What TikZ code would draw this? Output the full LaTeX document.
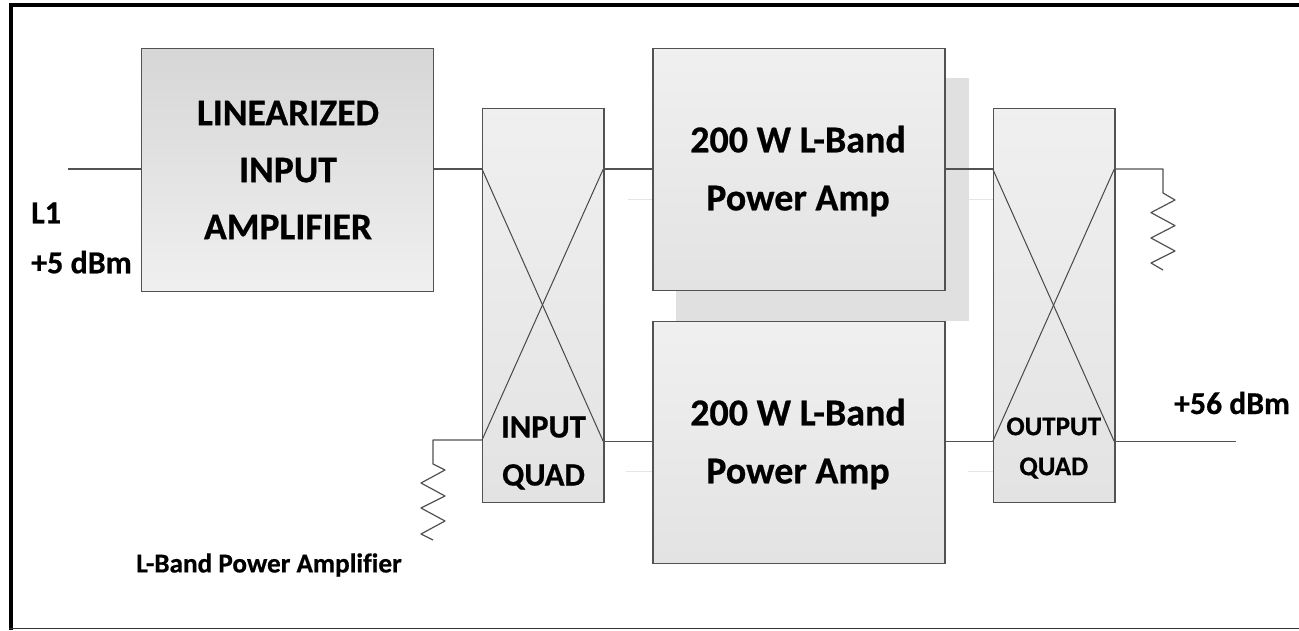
\documentclass[tikz,border=0pt]{standalone}
\usepackage{fontspec}
\setmainfont{Carlito}[BoldFeatures={FakeBold=0.6}]
\tikzset{
  block/.style={draw=black!68,line width=1.2pt,shading=axis,shading angle=0,anchor=north west,inner sep=0pt},
  wire/.style={draw=black!68,line width=1.2pt},
  cross/.style={draw=black!72,line width=1pt},
  faint/.style={draw=black!10,line width=0.8pt},
  lab/.style={font=\bfseries,align=center,text=black,inner sep=0pt}
}
\begin{document}
\begin{tikzpicture}[x=1pt,y=-1pt]
\useasboundingbox (0,0) rectangle (1299,630);
\fill[white] (0,0) rectangle (1299,630);
% frame
\fill[black] (9,3) rectangle (1299,7);
\fill[black] (9,3) rectangle (13,630);
\draw[black!80,line width=1pt] (9,628.5) -- (1299,628.5);
% shadow
\fill[black!12] (676,78) rectangle (969,320.7);
% faint lines
\coordinate (f1a) at (628,199); \coordinate (f1b) at (677,199);
\coordinate (f2a) at (969,199); \coordinate (f2b) at (1017,199);
\coordinate (f3a) at (626,471.7); \coordinate (f3b) at (677,471.7);
\coordinate (f4a) at (968,471.7); \coordinate (f4b) at (1018,471.7);
\draw[faint] (f1a)--(f1b); \draw[faint] (f2a)--(f2b);
\draw[faint] (f3a)--(f3b); \draw[faint] (f4a)--(f4b);
% blocks
\node[block,top color=black!16,bottom color=black!6,minimum width=292pt,minimum height=243pt] (lin) at (141,48) {};
\node[block,top color=black!6,bottom color=black!11,minimum width=292pt,minimum height=242pt] (pa1) at (652.3,48) {};
\node[block,top color=black!6,bottom color=black!11,minimum width=292pt,minimum height=242pt] (pa2) at (652.3,320.7) {};
\node[block,top color=black!6,bottom color=black!11,minimum width=121.3pt,minimum height=394pt] (iq) at (482,108) {};
\node[block,top color=black!6,bottom color=black!11,minimum width=121.6pt,minimum height=394pt] (oq) at (992.7,108) {};
% ports
\coordinate (iql) at (482,169); \coordinate (iqr) at (603.3,169);
\coordinate (iqbl) at (482,440); \coordinate (iqbr) at (603.3,441.5);
\coordinate (oql) at (992.7,169); \coordinate (oqr) at (1114.3,169);
\coordinate (oqbl) at (992.7,441.5); \coordinate (oqbr) at (1114.3,441.5);
\draw[cross] (iql)--(iqbr); \draw[cross] (iqr)--(iqbl);
\draw[cross] (oql)--(oqbr); \draw[cross] (oqr)--(oqbl);
% connectors
\coordinate (in) at (68,169); \coordinate (out) at (1236,441.5);
\draw[wire] (in)--(lin.west|-in);
\draw[wire] (lin.east|-iql)--(iql);
\draw[wire] (iqr)--(pa1.west|-iqr);
\draw[wire] (iqbr)--(pa2.west|-iqbr);
\draw[wire] (pa1.east|-oql)--(oql);
\draw[wire] (pa2.east|-oqbl)--(oqbl);
\draw[wire] (oqbr)--(out);
% resistors
\coordinate (r1) at (1163,193);
\draw[wire,line join=round] (oqr)--(oqr-|r1)--(r1)--(1175,200)--(1151,212.6)--(1175,225.6)--(1151,238)--(1175,251)--(1151,263)--(1163,270);
\coordinate (r2) at (433,464);
\draw[wire,line join=round] (iqbl)--(iqbl-|r2)--(r2)--(445,470)--(421,483)--(445,496)--(421,508)--(445,521)--(421,534)--(433,540);
% labels
\node[lab,font=\fontsize{37.5}{57}\bfseries\selectfont] (t1) at (288,170) {LINEARIZED\\INPUT\\AMPLIFIER};
\node[lab,font=\fontsize{38}{58}\bfseries\selectfont] (t2) at (798,171) {200 W L-Band\\Power Amp};
\node[lab,font=\fontsize{38}{58}\bfseries\selectfont] (t3) at (798,444) {200 W L-Band\\Power Amp};
\node[lab,font=\fontsize{32.5}{48}\bfseries\selectfont] (t4) at (543.5,453) {INPUT\\QUAD};
\node[lab,font=\fontsize{27}{40}\bfseries\selectfont] (t5) at (1053.7,448) {OUTPUT\\QUAD};
\node[lab,font=\fontsize{32}{50}\bfseries\selectfont,align=left,anchor=west] (t6) at (31,238) {L1\\+5 dBm};
\node[lab,font=\fontsize{31.7}{38}\bfseries\selectfont,anchor=west] (t7) at (1174,403) {+56 dBm};
\node[lab,font=\fontsize{27.2}{32}\bfseries\selectfont,anchor=west] (t8) at (136,565) {L-Band Power Ampli{f}\kern0pt i{e}r};
\end{tikzpicture}
\end{document}
